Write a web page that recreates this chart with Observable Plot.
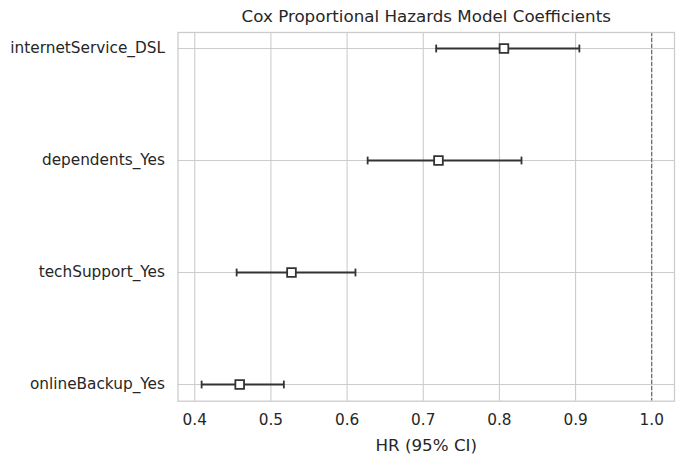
<!DOCTYPE html>
<html>
<head>
<meta charset="utf-8">
<script src="https://cdn.jsdelivr.net/npm/d3@7"></script>
<script src="https://cdn.jsdelivr.net/npm/@observablehq/plot@0.6"></script>
<style>
  html, body { margin: 0; padding: 0; background: #fff; }
  #chart svg { display: block; }
</style>
</head>
<body>
<div id="chart"></div>
<script>
// Covariates, top to bottom
const covariates = ["internetService_DSL", "dependents_Yes", "techSupport_Yes", "onlineBackup_Yes"];
// Hazard ratios and 95% confidence bounds
const hr = [0.806, 0.720, 0.527, 0.459];
const lower = [0.717, 0.627, 0.455, 0.409];
const upper = [0.905, 0.829, 0.611, 0.517];
const xTicks = [0.4, 0.5, 0.6, 0.7, 0.8, 0.9, 1.0];
const referenceHR = [1.0];

const rows = covariates.map((name, i) => ({name, hr: hr[i], lower: lower[i], upper: upper[i]}));

const ink = "#262626";
const gridColor = "#cccccc";
const font = "'DejaVu Sans', sans-serif";
const tickFont = "15.3px";
const labelFont = "16.7px";

// Vertical bar used as the error-bar cap
const capSymbol = {
  draw(context, size) {
    const h = Math.sqrt(size) / 2;
    context.moveTo(0, -h);
    context.lineTo(0, h);
  }
};

const chart = Plot.plot({
  width: 684,
  height: 463,
  marginLeft: 177.5,
  marginRight: 10,
  marginTop: 32,
  marginBottom: 62.3,
  style: {fontFamily: font, fontSize: tickFont, color: ink, background: "#fff"},
  x: {
    domain: [0.378, 1.0299],
    ticks: xTicks,
    tickFormat: d3.format(".1f"),
    label: null
  },
  y: {domain: covariates, padding: 0.14, label: null},
  marks: [
    // grid
    Plot.ruleX(xTicks, {stroke: gridColor, strokeWidth: 1.1, strokeOpacity: 1}),
    Plot.ruleY(covariates, {stroke: gridColor, strokeWidth: 1.1, strokeOpacity: 1}),
    // reference line at HR = 1
    Plot.ruleX(referenceHR, {stroke: "#555", strokeWidth: 1, strokeDasharray: "4,2"}),
    // confidence intervals
    Plot.ruleY(rows, {y: "name", x1: "lower", x2: "upper", stroke: "#333", strokeWidth: 1.8}),
    Plot.dot(rows, {x: "lower", y: "name", symbol: capSymbol, r: 4.4, stroke: "#333", strokeWidth: 1.8}),
    Plot.dot(rows, {x: "upper", y: "name", symbol: capSymbol, r: 4.4, stroke: "#333", strokeWidth: 1.8}),
    // point estimates
    Plot.dot(rows, {x: "hr", y: "name", symbol: "square", r: 4.9, fill: "#fff", stroke: "#333", strokeWidth: 1.8}),
    // axes
    Plot.axisX({ticks: xTicks, tickSize: 0, tickPadding: 13, tickFormat: d3.format(".1f"), fill: ink, fontSize: tickFont, label: null}),
    Plot.axisY({tickSize: 0, tickPadding: 13, fill: ink, fontSize: tickFont, label: null}),
    Plot.frame({stroke: gridColor, strokeWidth: 1.3}),
    // x-axis title
    Plot.text(["HR (95% CI)"], {frameAnchor: "bottom", lineAnchor: "middle", dy: 44.5, fill: ink, fontSize: labelFont}),
    // chart title
    Plot.text(["Cox Proportional Hazards Model Coefficients"], {frameAnchor: "top", lineAnchor: "middle", dy: -15.5, fill: ink, fontSize: labelFont})
  ]
});

document.getElementById("chart").appendChild(chart);
</script>
</body>
</html>
